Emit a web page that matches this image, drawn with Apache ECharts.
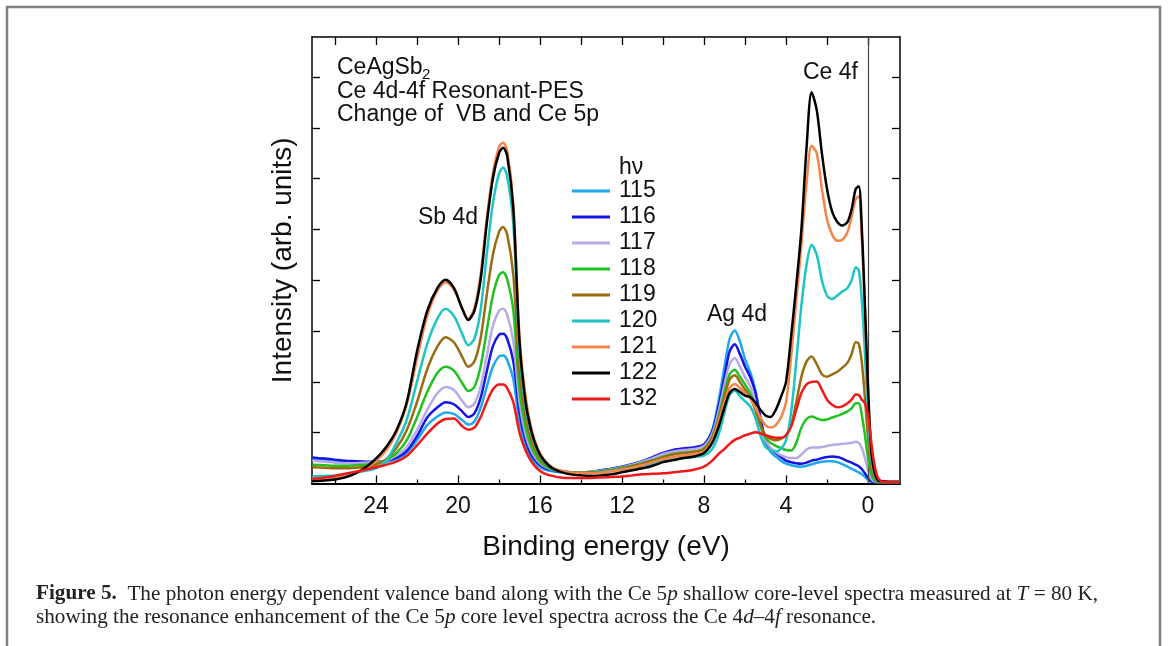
<!DOCTYPE html>
<html>
<head>
<meta charset="utf-8">
<script src="https://cdn.jsdelivr.net/npm/echarts@6/dist/echarts.min.js"></script>
<style>
html,body{margin:0;padding:0;background:#fff;}
#chart{width:1168px;height:646px;}
</style>
</head>
<body>
<div id="chart"></div>
<script>
// Binding energy grid (eV)
const energy = [
  27.1, 26.5, 26, 25.5, 25, 24.5, 24, 23.5, 23, 22.5,
  22, 21.5, 21, 20.6, 20.2, 19.8, 19.5, 19.2, 18.9, 18.6,
  18.3, 18.0, 17.8, 17.6, 17.3, 17.0, 16.7, 16.4, 16.1, 15.8,
  15.4, 15.0, 14.5, 14, 13.5, 13, 12.5, 12, 11.5, 11,
  10.5, 10, 9.5, 9, 8.5, 8, 7.6, 7.3, 7.0, 6.75,
  6.5, 6.25, 6.0, 5.75, 5.5, 5.25, 5.0, 4.75, 4.5, 4.25,
  4.0, 3.75, 3.5, 3.25, 3.0, 2.75, 2.5, 2.25, 2.0, 1.75,
  1.5, 1.25, 1.0, 0.8, 0.6, 0.45, 0.3, 0.15, 0.0, -0.15,
  -0.3, -0.5, -0.8, -1.2, -1.56
];

const hv115 = [
  0.49, 0.47, 0.45, 0.43, 0.42, 0.41, 0.41, 0.43, 0.48, 0.6,
  0.85, 1.15, 1.32, 1.4, 1.37, 1.25, 1.16, 1.22, 1.48, 1.9,
  2.3, 2.5, 2.52, 2.43, 2.05, 1.2, 0.72, 0.48, 0.35, 0.28,
  0.24, 0.22, 0.21, 0.21, 0.23, 0.26, 0.29, 0.33, 0.38, 0.44,
  0.51, 0.58, 0.63, 0.67, 0.7, 0.77, 1.05, 1.6, 2.3, 2.85,
  3.01, 2.8, 2.45, 2.2, 1.85, 1.3, 0.82, 0.62, 0.53, 0.45,
  0.39, 0.36, 0.34, 0.33, 0.35, 0.38, 0.41, 0.43, 0.44, 0.44,
  0.42, 0.38, 0.33, 0.29, 0.25, 0.22, 0.18, 0.13, 0.07, 0.04,
  0.03, 0.03, 0.03, 0.03, 0.03
];
const hv116 = [
  0.51, 0.49, 0.47, 0.45, 0.44, 0.43, 0.43, 0.45, 0.51, 0.64,
  0.93, 1.3, 1.5, 1.6, 1.56, 1.42, 1.31, 1.38, 1.68, 2.2,
  2.7, 2.93, 2.95, 2.85, 2.4, 1.4, 0.85, 0.55, 0.4, 0.31,
  0.26, 0.23, 0.22, 0.22, 0.23, 0.26, 0.29, 0.33, 0.38, 0.44,
  0.52, 0.6, 0.66, 0.69, 0.71, 0.77, 1.03, 1.5, 2.1, 2.6,
  2.74, 2.55, 2.3, 2.1, 1.8, 1.3, 0.85, 0.68, 0.6, 0.52,
  0.45, 0.42, 0.4, 0.39, 0.41, 0.45, 0.47, 0.5, 0.52, 0.53,
  0.52, 0.49, 0.44, 0.41, 0.37, 0.34, 0.28, 0.2, 0.11, 0.05,
  0.03, 0.03, 0.03, 0.03, 0.03
];
const hv117 = [
  0.45, 0.43, 0.41, 0.4, 0.4, 0.41, 0.42, 0.45, 0.55, 0.72,
  1.05, 1.45, 1.78, 1.9, 1.84, 1.63, 1.5, 1.57, 1.9, 2.5,
  3.1, 3.4, 3.44, 3.32, 2.8, 1.6, 0.95, 0.62, 0.44, 0.34,
  0.27, 0.24, 0.22, 0.22, 0.23, 0.25, 0.28, 0.32, 0.37, 0.43,
  0.5, 0.58, 0.63, 0.66, 0.68, 0.74, 0.98, 1.4, 1.95, 2.35,
  2.47, 2.3, 2.1, 1.92, 1.6, 1.15, 0.85, 0.7, 0.62, 0.56,
  0.52, 0.5, 0.5, 0.57, 0.67, 0.71, 0.71, 0.72, 0.74, 0.76,
  0.77, 0.78, 0.79, 0.8, 0.82, 0.8, 0.7, 0.5, 0.27, 0.1,
  0.04, 0.03, 0.03, 0.03, 0.03
];
const hv118 = [
  0.37, 0.36, 0.35, 0.35, 0.36, 0.37, 0.4, 0.46, 0.6, 0.85,
  1.3, 1.8, 2.18, 2.3, 2.22, 1.98, 1.82, 1.9, 2.3, 3.0,
  3.7, 4.1, 4.16, 4.02, 3.4, 1.85, 1.1, 0.7, 0.48, 0.36,
  0.28, 0.24, 0.22, 0.21, 0.22, 0.24, 0.27, 0.31, 0.35, 0.4,
  0.46, 0.53, 0.58, 0.61, 0.63, 0.69, 0.92, 1.3, 1.8, 2.15,
  2.24, 2.1, 1.95, 1.78, 1.5, 1.15, 0.9, 0.8, 0.74, 0.7,
  0.66, 0.65, 0.8, 1.1, 1.27, 1.32, 1.28, 1.25, 1.26, 1.3,
  1.33, 1.37, 1.42, 1.48, 1.58, 1.58, 1.34, 0.95, 0.5, 0.2,
  0.07, 0.03, 0.03, 0.03, 0.03
];
const hv119 = [
  0.32, 0.31, 0.3, 0.3, 0.31, 0.33, 0.37, 0.48, 0.7, 1.05,
  1.6, 2.25, 2.7, 2.88, 2.78, 2.5, 2.3, 2.4, 2.85, 3.7,
  4.5, 4.95, 5.05, 4.9, 4.1, 2.2, 1.3, 0.82, 0.55, 0.4,
  0.3, 0.25, 0.22, 0.21, 0.21, 0.23, 0.26, 0.3, 0.34, 0.39,
  0.45, 0.52, 0.57, 0.6, 0.62, 0.68, 0.9, 1.25, 1.7, 2.05,
  2.13, 2.0, 1.85, 1.7, 1.45, 1.15, 0.95, 0.88, 0.85, 0.88,
  0.95, 1.15, 1.6, 2.1, 2.4, 2.5, 2.35, 2.15, 2.1, 2.15,
  2.2, 2.28, 2.38, 2.55, 2.78, 2.75, 2.38, 1.68, 0.9, 0.34,
  0.12, 0.04, 0.03, 0.03, 0.03
];
const hv120 = [
  0.14, 0.15, 0.16, 0.18, 0.21, 0.25, 0.3, 0.45, 0.8, 1.25,
  2.0, 2.75, 3.25, 3.44, 3.3, 2.95, 2.72, 2.85, 3.4, 4.5,
  5.5, 6.1, 6.22, 6.05, 5.1, 2.6, 1.5, 0.95, 0.62, 0.43,
  0.3, 0.24, 0.21, 0.2, 0.2, 0.22, 0.25, 0.28, 0.31, 0.35,
  0.39, 0.44, 0.48, 0.5, 0.52, 0.55, 0.68, 0.95, 1.4, 1.75,
  1.83, 1.72, 1.62, 1.52, 1.3, 0.95, 0.72, 0.65, 0.63, 0.68,
  0.85, 1.4, 2.4, 3.5, 4.3, 4.7, 4.5, 4.0, 3.7, 3.63,
  3.7, 3.78, 3.85, 4.0, 4.25, 4.2, 3.6, 2.55, 1.36, 0.5,
  0.18, 0.05, 0.04, 0.03, 0.03
];
const hv121 = [
  0.1, 0.1, 0.11, 0.14, 0.2, 0.3, 0.44, 0.66, 1.0, 1.55,
  2.45, 3.3, 3.8, 3.96, 3.82, 3.45, 3.24, 3.45, 4.1, 5.2,
  6.1, 6.62, 6.71, 6.55, 5.5, 2.9, 1.7, 1.05, 0.68, 0.47,
  0.32, 0.25, 0.21, 0.2, 0.2, 0.21, 0.24, 0.27, 0.31, 0.36,
  0.42, 0.48, 0.52, 0.55, 0.58, 0.63, 0.85, 1.2, 1.6, 1.88,
  1.96, 1.88, 1.78, 1.68, 1.5, 1.3, 1.15, 1.1, 1.15, 1.3,
  1.6, 2.5, 3.6, 4.7, 5.9, 6.65, 6.5, 5.8, 5.2, 4.9,
  4.78, 4.8, 4.95, 5.25, 5.6, 5.65, 4.8, 3.4, 1.8, 0.68,
  0.24, 0.06, 0.04, 0.03, 0.03
];
const hv122 = [
  0.05, 0.06, 0.08, 0.12, 0.2, 0.32, 0.49, 0.72, 1.05, 1.6,
  2.6, 3.4, 3.85, 4.01, 3.85, 3.45, 3.22, 3.4, 4.0, 5.1,
  6.0, 6.5, 6.61, 6.45, 5.4, 2.8, 1.6, 1.0, 0.65, 0.45,
  0.3, 0.23, 0.18, 0.16, 0.15, 0.16, 0.18, 0.22, 0.26, 0.3,
  0.35, 0.42, 0.46, 0.5, 0.53, 0.6, 0.8, 1.1, 1.5, 1.78,
  1.86, 1.8, 1.73, 1.7, 1.6, 1.45, 1.34, 1.31, 1.45, 1.7,
  2.0, 2.9, 3.9, 5.0, 6.6, 7.7, 7.35, 6.5, 5.8, 5.35,
  5.15, 5.08, 5.15, 5.4, 5.8, 5.85, 5.0, 3.5, 1.9, 0.7,
  0.25, 0.06, 0.04, 0.03, 0.03
];
const hv132 = [
  0.09, 0.12, 0.15, 0.19, 0.23, 0.27, 0.32, 0.37, 0.43, 0.54,
  0.75, 0.98, 1.18, 1.27, 1.28, 1.13, 1.06, 1.1, 1.3, 1.6,
  1.85, 1.95, 1.95, 1.88, 1.6, 1.0, 0.65, 0.42, 0.28, 0.2,
  0.15, 0.12, 0.11, 0.11, 0.11, 0.12, 0.13, 0.14, 0.16, 0.18,
  0.19, 0.2, 0.22, 0.24, 0.27, 0.33, 0.45, 0.58, 0.68, 0.78,
  0.86, 0.9, 0.95, 0.98, 1.01, 0.99, 0.95, 0.92, 0.9, 0.9,
  0.95, 1.12, 1.45, 1.78, 1.95, 2.0, 2.01, 1.85, 1.65, 1.55,
  1.5, 1.52, 1.58, 1.65, 1.75, 1.74, 1.65, 1.58, 1.35, 0.85,
  0.4, 0.1, 0.03, 0.03, 0.03
];

const seriesNames = ['115', '116', '117', '118', '119', '120', '121', '122', '132'];
const seriesValues = [hv115, hv116, hv117, hv118, hv119, hv120, hv121, hv122, hv132];
const seriesColors = ['#1ea8ee', '#1414e6', '#b9a9e6', '#1fc21f', '#9b6b12', '#1dc4c4', '#f5844a', '#000000', '#f01818'];

const xTopTickValues = [26, 24, 22, 20, 18, 16, 14, 12, 10, 8, 6, 4, 2, 0];
const xMajorTickValues = [24, 20, 16, 12, 8, 4, 0];
const xMinorTickValues = [26, 22, 18, 14, 10, 6, 2];
const xLabelValues = [24, 20, 16, 12, 8, 4, 0];
const yTickValues = [1, 2, 3, 4, 5, 6, 7, 8];

const FONT = '"Liberation Sans", Arial, Helvetica, sans-serif';
const SERIF = '"Liberation Serif", "Times New Roman", serif';

const chart = echarts.init(document.getElementById('chart'), null, {renderer: 'canvas'});

const series = seriesNames.map((name, i) => ({
  name: name,
  type: 'line',
  xAxisIndex: 0,
  yAxisIndex: 0,
  data: energy.map((e, k) => [e, seriesValues[i][k]]),
  showSymbol: false,
  symbol: 'none',
  smooth: 0.3,
  silent: true,
  lineStyle: {color: seriesColors[i], width: 2.5},
  itemStyle: {color: seriesColors[i]},
  z: 2 + i
}));
series[0].markLine = {
  silent: true,
  symbol: 'none',
  label: {show: false},
  lineStyle: {color: '#444', width: 1.2, type: 'solid'},
  data: [{xAxis: 0}],
  animation: false
};

function xAxisDef(extra) {
  return Object.assign({
    type: 'value', inverse: true, min: -1.56, max: 27.12,
    splitLine: {show: false},
    axisLine: {show: true, onZero: false, lineStyle: {color: '#000', width: 1.5}},
    axisLabel: {show: false}
  }, extra);
}
function yAxisDef(extra) {
  return Object.assign({
    type: 'value', min: 0, max: 8.79,
    splitLine: {show: false},
    axisLine: {show: true, onZero: false, lineStyle: {color: '#000', width: 1.5}},
    axisTick: {show: true, inside: true, length: 8, customValues: yTickValues, lineStyle: {color: '#000', width: 1.3}},
    axisLabel: {show: false}
  }, extra);
}

const txt = (text, x, y, size) => ({
  type: 'text', silent: true,
  style: {text: text, x: x, y: y, fontSize: size, fontFamily: FONT, fill: '#111', verticalAlign: 'middle'}
});

const graphic = [
  {type: 'polyline', silent: true, shape: {points: [[7, 646], [7, 7], [1160, 7], [1160, 646]]},
   style: {stroke: '#808080', lineWidth: 2.5, fill: null}},
  txt('CeAgSb', 337, 68, 23),
  txt('2', 422, 75, 15),
  txt('Ce 4d-4f Resonant-PES', 337, 91.5, 23),
  txt('Change of  VB and Ce 5p', 337, 115, 23),
  txt('Sb 4d', 418, 218, 23),
  txt('Ce 4f', 803, 73, 23),
  txt('Ag 4d', 707, 315, 23),
  txt('hν', 619, 168, 23),
  {type: 'text', silent: true, style: {
    text: '{b|Figure 5.}  The photon energy dependent valence band along with the Ce 5{i|p} shallow core-level spectra measured at {i|T} = 80 K,',
    x: 36, y: 594, fontSize: 21.2, fontFamily: SERIF, fill: '#222', verticalAlign: 'middle',
    rich: {b: {fontWeight: 'bold', fontSize: 21.2, fontFamily: SERIF, fill: '#222'}, i: {fontStyle: 'italic', fontSize: 21.2, fontFamily: SERIF, fill: '#222'}}
  }},
  {type: 'text', silent: true, style: {
    text: 'showing the resonance enhancement of the Ce 5{i|p} core level spectra across the Ce 4{i|d}–4{i|f} resonance.',
    x: 36, y: 617, fontSize: 21.2, fontFamily: SERIF, fill: '#222', verticalAlign: 'middle',
    rich: {i: {fontStyle: 'italic', fontSize: 21.2, fontFamily: SERIF, fill: '#222'}}
  }}
];

const option = {
  animation: false,
  backgroundColor: '#fff',
  grid: {left: 312, right: 268, top: 37, bottom: 162.5, containLabel: false},
  legend: {
    orient: 'vertical', left: 567, top: 173, itemWidth: 38, itemHeight: 3, itemGap: 0,
    icon: 'rect',
    data: seriesNames, selectedMode: false,
    textStyle: {fontSize: 23, color: '#111', fontFamily: FONT, lineHeight: 26, padding: [0, 0, 0, 4]}
  },
  xAxis: [
    xAxisDef({
      position: 'bottom',
      axisLine: {show: true, onZero: false, lineStyle: {color: '#000', width: 2}},
      axisTick: {show: true, inside: true, length: 8, customValues: xMajorTickValues, lineStyle: {color: '#000', width: 1.3}},
      axisLabel: {show: true, customValues: xLabelValues, fontSize: 23, color: '#111', fontFamily: FONT, margin: 12},
      name: 'Binding energy (eV)', nameLocation: 'middle', nameGap: 50,
      nameTextStyle: {fontSize: 28, color: '#111', fontFamily: FONT}
    }),
    xAxisDef({
      position: 'top',
      axisTick: {show: true, inside: true, length: 8, customValues: xTopTickValues, lineStyle: {color: '#000', width: 1.3}}
    }),
    xAxisDef({
      position: 'bottom',
      axisLine: {show: false, onZero: false},
      axisTick: {show: true, inside: true, length: 4, customValues: xMinorTickValues, lineStyle: {color: '#000', width: 1.3}}
    })
  ],
  yAxis: [
    yAxisDef({
      position: 'left',
      name: 'Intensity (arb. units)', nameLocation: 'middle', nameGap: 15,
      nameTextStyle: {fontSize: 28, color: '#111', fontFamily: FONT}
    }),
    yAxisDef({position: 'right'})
  ],
  series: series,
  graphic: graphic
};
chart.setOption(option);
</script>
</body>
</html>
